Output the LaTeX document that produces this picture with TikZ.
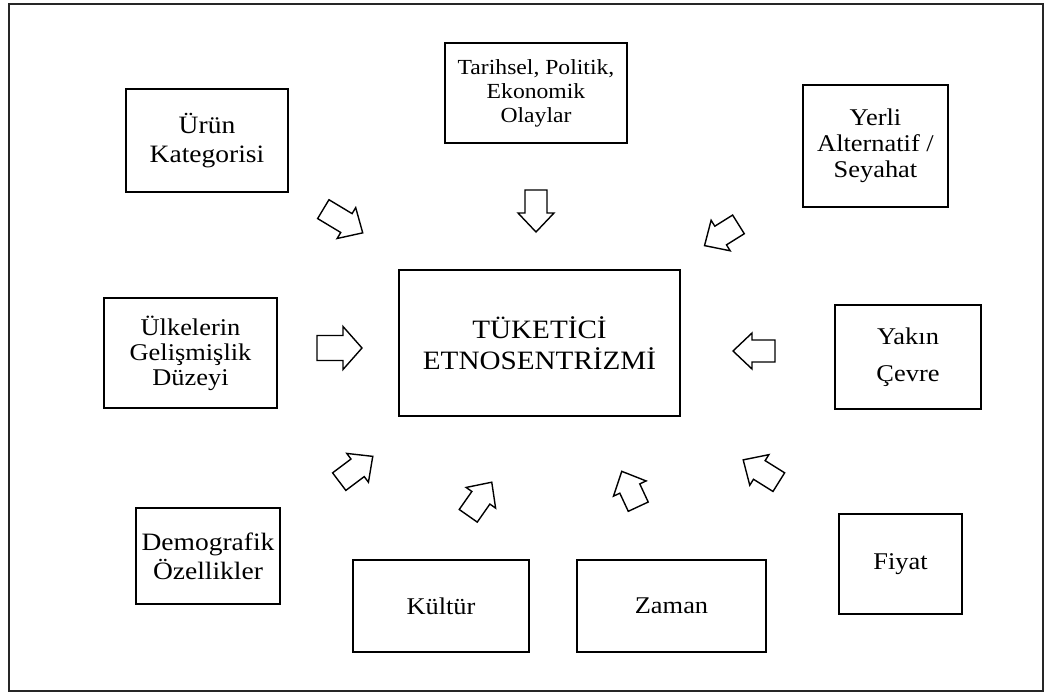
\documentclass[tikz,border=0pt]{standalone}
\usepackage{fontspec}
\setmainfont[FakeStretch=1.1]{Liberation Serif}
\tikzset{
  box/.style={draw=black, line width=1.4pt, fill=white, align=center, inner sep=2pt},
  barrow/.style={draw=black, line width=1.4pt, line join=miter, fill=white},
  frame/.style={draw=black!85, line width=2.2pt}
}
\newcommand\blockarr[4]{% x, y, angle, length
  \draw[barrow, shift={(#1,#2)}, rotate=#3]
    (-#4/2,-11) -- (#4/2-19,-11) -- (#4/2-19,-18) -- (#4/2,0)
    -- (#4/2-19,18) -- (#4/2-19,11) -- (-#4/2,11) -- cycle;}
\newcommand\fs[2]{\fontsize{#1}{#2}\selectfont}
\begin{document}
\begin{tikzpicture}[x=1pt,y=-1pt]
\useasboundingbox (0,0) rectangle (1047,695);
\draw[frame] (9,4) rectangle (1043,691);

\node[box, minimum width=182, minimum height=100, font=\fs{21.5}{24}] (tar) at (536,93)
  {Tarihsel, Politik,\\Ekonomik\\Olaylar};
\node[box, minimum width=162, minimum height=103, font=\fs{25}{29}] (urun) at (207,140.5)
  {Ürün\\Kategorisi};
\node[box, minimum width=145, minimum height=122, font=\fs{24}{26}] (yerli) at (875.5,146)
  {Yerli\\Alternatif /\\Seyahat};
\node[box, minimum width=281, minimum height=146, font=\fs{26.5}{31}] (merkez) at (539.5,343)
  {TÜKETİCİ\\ETNOSENTRİZMİ};
\node[box, minimum width=173, minimum height=110, font=\fs{24}{25}] (ulke) at (190.5,353)
  {Ülkelerin\\Gelişmişlik\\Düzeyi};
\node[box, minimum width=146, minimum height=104, font=\fs{24}{37}] (yakin) at (908,357)
  {Yakın\\Çevre};
\node[box, minimum width=144, minimum height=96, font=\fs{25}{29}] (demo) at (208,556)
  {Demografik\\Özellikler};
\node[box, minimum width=176, minimum height=92, font=\fs{24}{26}] (kultur) at (441,606)
  {Kültür};
\node[box, minimum width=189, minimum height=92, font=\fs{24}{26}] (zaman) at (671.5,606)
  {Zaman};
\node[box, minimum width=123, minimum height=100, font=\fs{24}{26}] (fiyat) at (900.5,564)
  {Fiyat};

\blockarr{343}{221}{-31}{46}
\blockarr{536}{211}{-90}{42}
\blockarr{721.5}{235}{-148}{40}
\draw[barrow, shift={(339.5,348)}]
    (-22.5,-12.5) -- (3.5,-12.5) -- (3.5,-21.5) -- (22.5,0)
    -- (3.5,21.5) -- (3.5,12.5) -- (-22.5,12.5) -- cycle;
\blockarr{754}{351}{180}{42}
\blockarr{356}{469}{37}{42}
\blockarr{480}{499}{55}{41}
\blockarr{630}{489}{115}{39}
\blockarr{761}{471}{148}{42}
\end{tikzpicture}
\end{document}
